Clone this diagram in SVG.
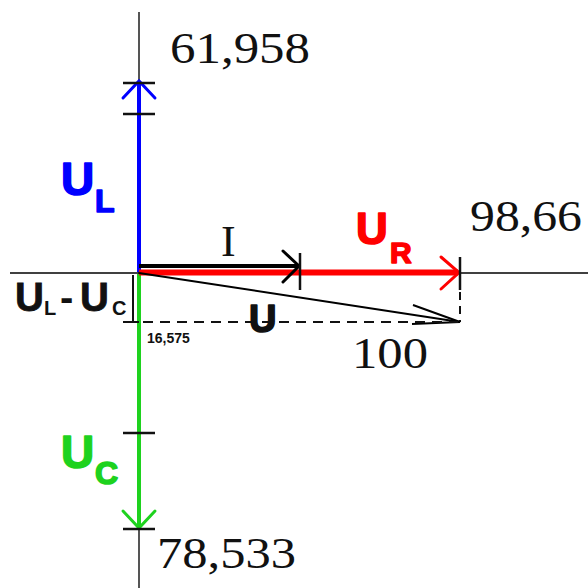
<svg xmlns="http://www.w3.org/2000/svg" width="588" height="588" viewBox="0 0 588 588">
<style>
.num{font-family:"Liberation Serif",serif;font-size:44px;fill:#111}
.lbl{font-family:"Liberation Sans",Arial,sans-serif;font-weight:bold}
.heavy{stroke-width:1.6;stroke-linejoin:round}
.axis{stroke:#000;stroke-width:1.5;fill:none}
.tick{stroke:#111;stroke-width:2.5;fill:none}
.head{fill:none;stroke-width:3;stroke-linecap:round}
</style>
<rect width="588" height="588" fill="#fff"/>
<g id="axes">
<line x1="139" y1="12" x2="139" y2="588" stroke="#555" stroke-width="2"/>
<line class="axis" x1="10" y1="273" x2="588" y2="273"/>
</g>
<g id="connectors">
<!-- UL blue -->
<line x1="139" y1="272" x2="139" y2="81" stroke="#0000ff" stroke-width="4"/>
<polyline class="head" points="123,98 139,81 155,98" stroke="#0000ff"/>
<line class="tick" x1="123" y1="83" x2="155" y2="83"/>
<line class="tick" x1="123" y1="114" x2="155" y2="114"/>
<!-- UC green -->
<line x1="139" y1="274" x2="139" y2="528" stroke="#1ed21e" stroke-width="4"/>
<polyline class="head" points="123,511 139,528 155,511" stroke="#1ed21e"/>
<line class="tick" x1="123" y1="433" x2="155" y2="433"/>
<line class="tick" x1="123" y1="529" x2="155" y2="529"/>
<!-- UR red -->
<line x1="139" y1="272.5" x2="458" y2="272.5" stroke="#ff0000" stroke-width="6"/>
<polyline class="head" points="441,257 459,272.5 441,289" stroke="#ff0000"/>
<line class="tick" x1="460" y1="257" x2="460" y2="290" stroke-width="2"/>
<line x1="460" y1="292" x2="460" y2="322" stroke="#111" stroke-width="2" stroke-dasharray="8,6"/>
<!-- I black -->
<line x1="139" y1="266" x2="298" y2="266" stroke="#000" stroke-width="4"/>
<polyline class="head" points="283,251 299,266 283,282" stroke="#000" stroke-width="2.5"/>
<line class="tick" x1="300" y1="253" x2="300" y2="290" stroke-width="2"/>
<!-- U resultant -->
<line x1="139" y1="273" x2="460" y2="322" stroke="#000" stroke-width="2"/>
<polyline points="413,305 460,322 412,324" fill="none" stroke="#000" stroke-width="2"/>
<!-- dashed projection -->
<line x1="143" y1="322" x2="458" y2="322" stroke="#111" stroke-width="2.2" stroke-dasharray="10,7"/>
<!-- bracket UL-UC -->
<line x1="133" y1="275" x2="133" y2="322" stroke="#111" stroke-width="2"/>
<line x1="123" y1="322" x2="139" y2="322" stroke="#111" stroke-width="2"/>
</g>
<g id="labels">
<text class="num" x="170" y="63" textLength="140" lengthAdjust="spacingAndGlyphs">61,958</text>
<text class="num" x="470" y="231" textLength="112" lengthAdjust="spacingAndGlyphs">98,66</text>
<text class="num" x="352" y="368" textLength="76" lengthAdjust="spacingAndGlyphs">100</text>
<text class="num" x="157" y="568" textLength="139" lengthAdjust="spacingAndGlyphs">78,533</text>
<text class="num" x="221" y="256" font-size="40">I</text>
<text class="lbl heavy" x="249" y="332" font-size="38" fill="#111" stroke="#111">U</text>
<text class="lbl" x="147" y="343" font-size="14" fill="#111">16,575</text>
<text class="lbl heavy" x="61" y="195" font-size="46" fill="#0000ff" stroke="#0000ff">U</text>
<text class="lbl heavy" x="95" y="212" font-size="32" fill="#0000ff" stroke="#0000ff">L</text>
<text class="lbl heavy" x="61" y="468" font-size="46" fill="#1ed21e" stroke="#1ed21e">U</text>
<text class="lbl heavy" x="95" y="484" font-size="32" fill="#1ed21e" stroke="#1ed21e">C</text>
<text class="lbl heavy" x="356" y="244" font-size="44" fill="#ff0000" stroke="#ff0000">U</text>
<text class="lbl heavy" x="390" y="263" font-size="30" fill="#ff0000" stroke="#ff0000">R</text>
<text class="lbl" x="15" y="311" font-size="40" fill="#111" stroke="#111" stroke-width="0.8">U</text>
<text class="lbl" x="44" y="315" font-size="20" fill="#111">L</text>
<text class="lbl" x="60" y="311" font-size="40" fill="#111">-</text>
<text class="lbl" x="80" y="311" font-size="40" fill="#111" stroke="#111" stroke-width="0.8">U</text>
<text class="lbl" x="112" y="315" font-size="20" fill="#111">C</text>
</g>
</svg>
